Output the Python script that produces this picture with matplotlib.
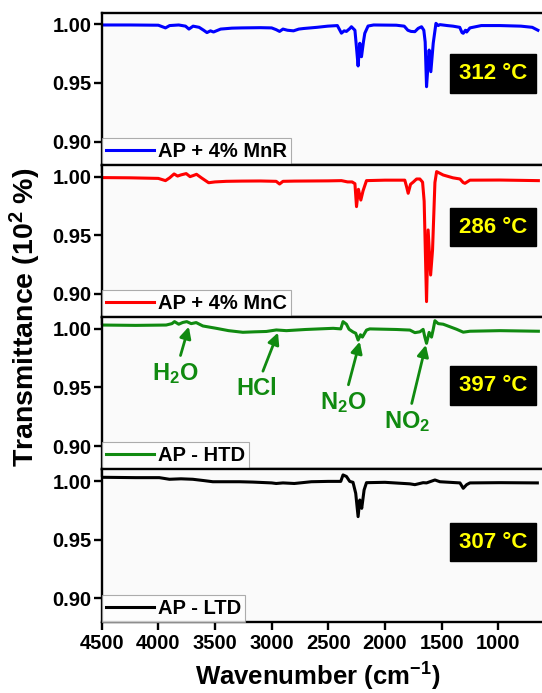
import numpy as np
import matplotlib
matplotlib.use("Agg")
import matplotlib.pyplot as plt

plt.rcParams['font.family'] = ['Liberation Sans', 'DejaVu Sans']
plt.rcParams['font.weight'] = 'bold'
plt.rcParams['mathtext.fontset'] = 'custom'
plt.rcParams['mathtext.rm'] = 'Liberation Sans:bold'
plt.rcParams['mathtext.bf'] = 'Liberation Sans:bold'
plt.rcParams['mathtext.default'] = 'bf'

# AP + 4% MnR (312 C)
wn_mnr = [4500, 4250, 4000, 3937, 3900, 3820, 3760, 3730, 3693, 3640, 3600, 3571, 3540, 3513,
          3450, 3350, 3265, 3100, 3000, 2960, 2930, 2900, 2860, 2807, 2760, 2717, 2600, 2505,
          2420, 2384, 2360, 2340, 2310, 2296, 2265, 2251, 2237, 2222, 2207, 2190, 2178, 2149,
          2100, 1900, 1830, 1798, 1770, 1736, 1707, 1677, 1657, 1645, 1633, 1620, 1610, 1595,
          1574, 1550, 1530, 1515, 1450, 1400, 1340, 1320, 1309, 1290, 1279, 1250, 1150, 985,
          800, 700, 650]
t_mnr = [0.9995, 0.9995, 0.9993, 0.9970, 0.9990, 0.9995, 0.9985, 0.9960, 0.9985, 0.9975, 0.9950,
         0.9930, 0.9945, 0.9935, 0.9960, 0.9968, 0.9970, 0.9972, 0.9970, 0.9955, 0.9940, 0.9960,
         0.9950, 0.9945, 0.9960, 0.9965, 0.9975, 0.9985, 0.9990, 0.9925, 0.9945, 0.9940, 0.9965,
         0.9980, 0.9950, 0.9800, 0.9645, 0.9839, 0.9724, 0.9850, 0.9924, 0.9986, 0.9995, 0.9993,
         0.9985, 0.9950, 0.9940, 0.9938, 0.9966, 0.9980, 0.9950, 0.9850, 0.9468, 0.9650, 0.9781,
         0.9596, 0.9839, 1.0009, 0.9990, 0.9998, 0.9990, 0.9985, 0.9975, 0.9930, 0.9924, 0.9950,
         0.9935, 0.9970, 0.9990, 0.9990, 0.9985, 0.9975, 0.9950]

# AP + 4% MnC (286 C)
wn_mnc = [4500, 4250, 4000, 3937, 3900, 3861, 3830, 3800, 3754, 3720, 3690, 3663, 3620, 3556,
          3500, 3400, 3265, 3100, 2960, 2930, 2900, 2800, 2500, 2384, 2330, 2290, 2265, 2251,
          2234, 2213, 2193, 2163, 2000, 1825, 1809, 1795, 1774, 1751, 1721, 1692, 1668, 1654,
          1633, 1619, 1597, 1580, 1559, 1544, 1486, 1400, 1338, 1310, 1294, 1250, 985, 646]
t_mnc = [0.9992, 0.9990, 0.9985, 0.9966, 0.9990, 1.0023, 1.0005, 1.0015, 1.0026, 1.0000, 1.0010,
         1.0020, 0.9990, 0.9948, 0.9955, 0.9960, 0.9962, 0.9963, 0.9960, 0.9937, 0.9960, 0.9962,
         0.9964, 0.9966, 0.9955, 0.9955, 0.9940, 0.9744, 0.9892, 0.9800, 0.9880, 0.9966, 0.9970,
         0.9970, 0.9914, 0.9858, 0.9935, 0.9953, 0.9980, 0.9980, 0.9953, 0.9790, 0.8933, 0.9545,
         0.9160, 0.9374, 0.9950, 1.0043, 1.0014, 0.9990, 0.9980, 0.9950, 0.9943, 0.9970, 0.9971,
         0.9966]

# AP - HTD (397 C)
wn_htd = [4500, 4200, 3931, 3880, 3857, 3820, 3784, 3749, 3710, 3666, 3607, 3489, 3380, 3254,
          3150, 3047, 2959, 2870, 2700, 2457, 2390, 2370, 2340, 2317, 2282, 2258, 2237, 2216,
          2199, 2163, 2134, 1900, 1780, 1736, 1692, 1663, 1648, 1633, 1610, 1589, 1574, 1559,
          1530, 1486, 1368, 1309, 1250, 985, 646]
t_htd = [1.0033, 1.0030, 1.0033, 1.0045, 1.0062, 1.0040, 1.0055, 1.0062, 1.0045, 1.0054, 1.0025,
         1.0005, 0.9985, 0.9971, 0.9975, 0.9978, 0.9991, 0.9985, 0.9995, 1.0005, 1.0000, 1.0062,
         1.0040, 0.9997, 0.9974, 0.9963, 0.9905, 0.9950, 0.9930, 0.9990, 1.0000, 0.9995, 0.9990,
         0.9968, 0.9975, 0.9996, 0.9930, 0.9877, 0.9970, 0.9930, 0.9996, 1.0070, 1.0045, 1.0040,
         0.9997, 0.9972, 0.9980, 0.9985, 0.9980]

# AP - LTD (307 C)
wn_ltd = [4500, 4200, 3992, 3902, 3800, 3696, 3600, 3519, 3400, 3283, 3165, 3000, 2960, 2900,
          2800, 2650, 2500, 2390, 2370, 2340, 2311, 2282, 2258, 2237, 2222, 2205, 2184, 2163,
          2000, 1780, 1736, 1663, 1633, 1559, 1515, 1338, 1309, 1279, 1250, 985, 655]
t_ltd = [1.0033, 1.0030, 1.0030, 1.0016, 1.0020, 1.0016, 1.0005, 0.9995, 0.9995, 0.9995, 0.9992,
         0.9985, 0.9980, 0.9985, 0.9980, 0.9995, 0.9998, 0.9998, 1.0053, 1.0040, 0.9998, 0.9990,
         0.9896, 0.9697, 0.9839, 0.9768, 0.9925, 0.9987, 0.9990, 0.9977, 0.9970, 0.9987, 0.9985,
         1.0010, 0.9995, 0.9985, 0.9939, 0.9970, 0.9985, 0.9987, 0.9985]

labels = ['AP + 4% MnR', 'AP + 4% MnC', 'AP - HTD', 'AP - LTD']
temps = ['312 \u00b0C', '286 \u00b0C', '397 \u00b0C', '307 \u00b0C']
colors = ['#0000ff', '#ff0000', '#108a10', '#000000']
series = [(wn_mnr, t_mnr), (wn_mnc, t_mnc), (wn_htd, t_htd), (wn_ltd, t_ltd)]
temp_ypos = [0.60, 0.592, 0.553, 0.523]

# gas assignments on the HTD curve: (label, peak x, peak y, text x, text y)
gases = [('H$_2$O', 3731, 1.0019, 3850, 0.962),
         ('HCl', 2944, 0.9968, 3135, 0.9495),
         ('N$_2$O', 2222, 0.9891, 2364, 0.937),
         ('NO$_2$', 1639, 0.9863, 1802, 0.921)]

fig, axs = plt.subplots(4, 1, sharex=True, figsize=(5.42, 6.93), dpi=100)
fig.subplots_adjust(left=0.1876, right=1.0, top=0.9817, bottom=0.1029, hspace=0)

for i, ax in enumerate(axs):
    wn, t = series[i]
    ax.set_facecolor('#fafafa')
    ax.plot(wn, t, color=colors[i], lw=2.2, label=labels[i])
    ax.set_xlim(4500, 614)
    ax.set_ylim(0.88, 1.01)
    ax.set_yticks([0.90, 0.95, 1.00])
    ax.yaxis.set_major_formatter(matplotlib.ticker.FormatStrFormatter('%.2f'))
    for s in ['top', 'bottom', 'left']:
        ax.spines[s].set_linewidth(1.7)
    ax.spines['right'].set_visible(False)
    ax.tick_params(axis='y', direction='out', length=6, width=1.7, pad=1.5, labelsize=14.5)
    ax.tick_params(axis='x', direction='out', length=6, width=1.7, pad=3, labelsize=14.5)
    leg = ax.legend(loc='lower left', borderaxespad=0, fancybox=False, handlelength=2.4,
                    handletextpad=0.2, borderpad=0.2, prop={'size': 14.5, 'weight': 'bold'})
    leg.get_frame().set_edgecolor('#999999')
    leg.get_frame().set_linewidth(0.8)
    ax.text(0.889, temp_ypos[i], temps[i], transform=ax.transAxes, ha='center', va='center',
            color='#ffff00', fontsize=16, fontweight='bold',
            bbox=dict(boxstyle='square,pad=0.4', facecolor='black', edgecolor='black'))

for g in gases:
    axs[2].annotate(g[0], xy=(g[1], g[2]), xytext=(g[3], g[4]), ha='center', va='center',
                    color=colors[2], fontsize=17, fontweight='bold',
                    arrowprops=dict(arrowstyle='-|>', color=colors[2], lw=2, mutation_scale=17,
                                    shrinkA=2, shrinkB=0))

axs[3].set_xticks([4500, 4000, 3500, 3000, 2500, 2000, 1500, 1000])
for lab in axs[3].get_xticklabels() + [l for a in axs for l in a.get_yticklabels()]:
    lab.set_fontweight('bold')

fig.text(0.046, 1 - 317.2 / 693, 'Transmittance (10$^2$ %)', rotation=90, ha='center',
         va='center', fontsize=20.5, fontweight='bold')
fig.text(318 / 542, 0.01, 'Wavenumber (cm$^{-1}$)', ha='center', va='baseline',
         fontsize=18.5, fontweight='bold')

plt.savefig('out.png', dpi=100, facecolor='white')
